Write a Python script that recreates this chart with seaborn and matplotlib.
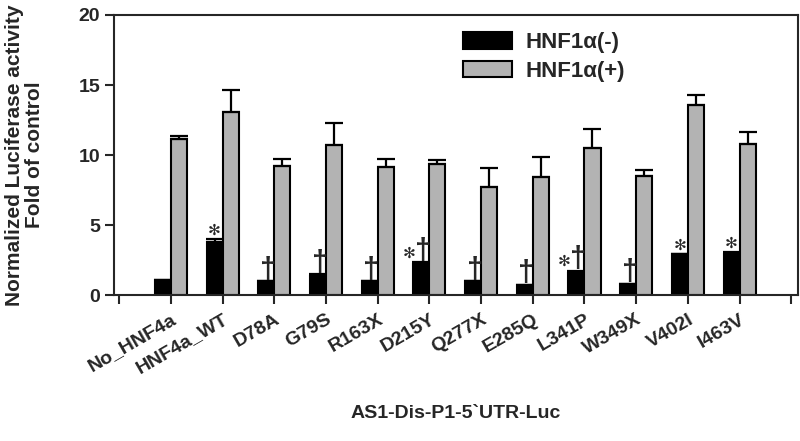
import numpy as np
import pandas as pd
import matplotlib
matplotlib.use("Agg")
import matplotlib.pyplot as plt
import seaborn as sns

# values
constructs = ["No_HNF4a", "HNF4a_WT", "D78A", "G79S", "R163X", "D215Y",
              "Q277X", "E285Q", "L341P", "W349X", "V402I", "I463V"]
hnf1_neg = [1.05, 3.78, 1.02, 1.35, 1.02, 2.2, 1.02, 0.75, 1.6, 0.82, 2.93, 2.95]
hnf1_neg_err = [0.0, 0.25, 0.0, 0.15, 0.0, 0.17, 0.0, 0.0, 0.14, 0.0, 0.0, 0.12]
hnf1_pos = [11.15, 13.07, 9.19, 10.69, 9.17, 9.33, 7.69, 8.45, 10.5, 8.52, 13.57, 10.79]
hnf1_pos_err = [0.22, 1.6, 0.55, 1.6, 0.52, 0.34, 1.38, 1.41, 1.33, 0.43, 0.69, 0.88]
marks = ["", "*", "\u2020", "\u2020", "\u2020", "*\u2020",
         "\u2020", "\u2020", "*\u2020", "\u2020", "*", "*"]
series = ["HNF1\u03b1(-)", "HNF1\u03b1(+)"]

df = pd.DataFrame({
    "construct": constructs * 2,
    "value": hnf1_neg + hnf1_pos,
    "series": [series[0]] * len(constructs) + [series[1]] * len(constructs),
})

sns.set_style("ticks")
plt.rcParams["font.family"] = ["Liberation Sans", "DejaVu Sans"]
plt.rcParams["font.weight"] = "bold"

fig = plt.figure(figsize=(8, 4.41), dpi=100)
ax = fig.add_axes([0.1425, 0.331, 0.855, 0.635])

width = 0.62
sns.barplot(data=df, x="construct", y="value", hue="series", order=constructs,
            palette=["black", "#b3b3b3"], width=width, edgecolor="black",
            linewidth=1.5, errorbar=None, ax=ax, zorder=2)

pos = np.arange(len(constructs))
off = width / 4
n = len(constructs)
ax.errorbar(pos - off, hnf1_neg, yerr=[np.zeros(n), hnf1_neg_err], fmt="none",
            ecolor="black", elinewidth=1.6, capsize=6.5, capthick=1.6, zorder=3)
ax.errorbar(pos + off, hnf1_pos, yerr=[np.zeros(n), hnf1_pos_err], fmt="none",
            ecolor="black", elinewidth=1.6, capsize=6.5, capthick=1.6, zorder=3)

star = "\u273b"
for i, m in enumerate(marks):
    if not m:
        continue
    top = hnf1_neg[i] + hnf1_neg_err[i]
    if "\u2020" in m:
        if "*" in m:
            ax.annotate(star, (pos[i] - off, top), xytext=(-9, 6.5),
                        textcoords="offset points", ha="center", va="center",
                        fontsize=11, family="DejaVu Sans")
        ax.annotate("\u2020", (pos[i] - off, top), xytext=(1.2, -2),
                    textcoords="offset points", ha="center", va="bottom",
                    fontsize=21, fontweight="bold")
    else:
        ax.annotate(star, (pos[i] - off, top), xytext=(0, 6),
                    textcoords="offset points", ha="center", va="center",
                    fontsize=11, family="DejaVu Sans")

ax.set_xlim(-1.1, n + 0.13)
ax.set_ylim(0, 20)
ax.set_xticks(np.arange(-1, n + 1))
ax.set_xticklabels([""] + constructs + [""], rotation=30, ha="right",
                   rotation_mode="anchor", fontsize=14, fontweight="bold")
ax.set_yticks([0, 5, 10, 15, 20])
ax.set_yticklabels(["0", "5", "10", "15", "20"], fontsize=14, fontweight="bold")
ax.tick_params(axis="both", direction="out", length=6.5, width=1.5)
ax.tick_params(axis="x", pad=5)
for s in ax.spines.values():
    s.set_linewidth(1.5)
    s.set_visible(True)

ax.set_ylabel("Normalized Luciferase activity\nFold of control",
              fontsize=15, fontweight="bold", labelpad=25, linespacing=1.05)
ax.set_xlabel("AS1-Dis-P1-5`UTR-Luc", fontsize=14, fontweight="bold", labelpad=20)

ax.legend(title=None, frameon=False, loc="upper left", bbox_to_anchor=(0.481, 1.01),
          prop={"weight": "bold", "size": 16}, handlelength=2.2,
          handleheight=0.75, labelspacing=0.35, handletextpad=0.6)

fig.savefig("out.png", dpi=100)
